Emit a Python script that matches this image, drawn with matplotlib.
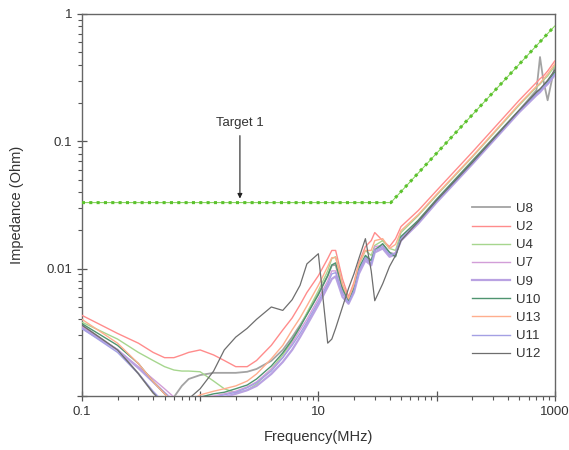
import matplotlib
matplotlib.use("Agg")
import matplotlib.pyplot as plt
from matplotlib.ticker import LogLocator, NullFormatter

plt.rcParams["font.family"] = ["Liberation Sans", "DejaVu Sans"]

# frequency grid (MHz) shared by all measured curves
FREQ = [0.1, 0.2, 0.3, 0.4, 0.5, 0.6, 0.7, 0.8, 1.0, 1.3, 1.6, 2.0, 2.5, 3.0, 4.0,
        5.0, 6.0, 7.0, 8.0, 10, 12, 13, 14, 16, 18, 20, 22, 25, 28, 30, 35, 40,
        45, 50, 70, 100, 200, 500, 700, 750, 800, 870, 1000]

# impedance (Ohm) per device
U8 = [0.0036, 0.0023, 0.0015, 0.00106, 0.00088, 0.00098, 0.0012, 0.00136, 0.00146,
      0.00152, 0.00152, 0.00152, 0.00155, 0.00163, 0.00189, 0.0023, 0.0029, 0.0036,
      0.0044, 0.0064, 0.0088, 0.0106, 0.0107, 0.0068, 0.0056, 0.0071, 0.0100, 0.0124,
      0.0116, 0.0141, 0.0155, 0.0134, 0.0129, 0.0175, 0.0239, 0.0349, 0.070, 0.175,
      0.252, 0.459, 0.302, 0.21, 0.39]
U2 = [0.0043, 0.0031, 0.0026, 0.0022, 0.0020, 0.0020, 0.0021, 0.0022, 0.0023, 0.0021,
      0.0019, 0.0017, 0.0017, 0.0019, 0.0025, 0.0033, 0.0041, 0.0052, 0.0065, 0.0088,
      0.0120, 0.0139, 0.0139, 0.0083, 0.0060, 0.0078, 0.0111, 0.0149, 0.0166, 0.0192,
      0.0166, 0.0149, 0.0172, 0.0214, 0.0286, 0.041, 0.082, 0.21, 0.29, 0.31, 0.325,
      0.356, 0.427]
U4 = [0.0038, 0.0028, 0.0022, 0.0019, 0.0017, 0.0016, 0.00157, 0.00157, 0.00155,
      0.00131, 0.00114, 0.00106, 0.00111, 0.00124, 0.00163, 0.0021, 0.0027, 0.0035,
      0.0045, 0.0067, 0.0096, 0.0120, 0.0124, 0.0075, 0.0057, 0.0074, 0.0106, 0.0139,
      0.0127, 0.0152, 0.0166, 0.0144, 0.0139, 0.0192, 0.0261, 0.0376, 0.075, 0.192,
      0.266, 0.281, 0.302, 0.325, 0.39]
U7 = [0.0035, 0.0023, 0.0017, 0.00136, 0.00114, 0.00098, 0.00091, 0.00095, 0.00098,
      0.0010, 0.00104, 0.00109, 0.00118, 0.00129, 0.00163, 0.0020, 0.0026, 0.0033,
      0.0040, 0.0058, 0.0080, 0.0096, 0.0096, 0.0065, 0.0054, 0.0067, 0.0096, 0.0120,
      0.0111, 0.0149, 0.0152, 0.0127, 0.0134, 0.0172, 0.0234, 0.0343, 0.068, 0.172,
      0.239, 0.252, 0.266, 0.292, 0.343]
U9 = [0.0034, 0.0023, 0.00166, 0.00129, 0.00106, 0.00091, 0.00085, 0.00083, 0.0009,
      0.00095, 0.00098, 0.00104, 0.00111, 0.0012, 0.00149, 0.00185, 0.0023, 0.0029,
      0.0036, 0.0052, 0.0072, 0.0083, 0.0087, 0.0060, 0.0053, 0.0065, 0.0091, 0.0116,
      0.0106, 0.0134, 0.0144, 0.0124, 0.0129, 0.0166, 0.0226, 0.0331, 0.066, 0.169,
      0.23, 0.243, 0.261, 0.281, 0.331]
U10 = [0.0037, 0.0025, 0.0018, 0.0013, 0.00104, 0.00088, 0.00083, 0.00088, 0.00098,
       0.00104, 0.00107, 0.00114, 0.00122, 0.00136, 0.00172, 0.00218, 0.00276, 0.00349,
       0.00435, 0.00624, 0.0088, 0.0107, 0.0111, 0.0070, 0.0056, 0.0070, 0.0100, 0.0127,
       0.0116, 0.0139, 0.0157, 0.0134, 0.0124, 0.0179, 0.0239, 0.0349, 0.0696, 0.175,
       0.243, 0.257, 0.271, 0.297, 0.349]
U13 = [0.0040, 0.0026, 0.0018, 0.0013, 0.00104, 0.00088, 0.00083, 0.00091, 0.00102,
       0.00109, 0.00114, 0.0012, 0.00131, 0.00149, 0.00196, 0.0025, 0.0033, 0.0041,
       0.0051, 0.0074, 0.0104, 0.0122, 0.0122, 0.0075, 0.0058, 0.0075, 0.0109, 0.0139,
       0.0139, 0.0166, 0.0172, 0.0144, 0.0155, 0.0199, 0.0266, 0.0383, 0.076, 0.196,
       0.271, 0.286, 0.308, 0.337, 0.404]
U11 = [0.0034, 0.0022, 0.0015, 0.00109, 0.00088, 0.00079, 0.00082, 0.00088, 0.00095,
       0.00098, 0.00102, 0.00107, 0.00116, 0.00127, 0.00157, 0.0020, 0.0025, 0.0031,
       0.0038, 0.0055, 0.0076, 0.0091, 0.0093, 0.0064, 0.0054, 0.0067, 0.0096, 0.0122,
       0.0109, 0.0139, 0.0149, 0.0129, 0.0131, 0.0172, 0.023, 0.0337, 0.067, 0.172,
       0.234, 0.248, 0.266, 0.286, 0.337]
U12 = [0.0036, 0.0023, 0.0015, 0.00106, 0.00085, 0.00076, 0.00083, 0.00095, 0.00114,
       0.00157, 0.0023, 0.0029, 0.0034, 0.0040, 0.0050, 0.0047, 0.0057, 0.0074, 0.0109,
       0.0131, 0.0026, 0.0028, 0.0034, 0.0050, 0.0070, 0.0091, 0.0120, 0.0172, 0.0096,
       0.0056, 0.0076, 0.0104, 0.0127, 0.0166, 0.0234, 0.0343, 0.068, 0.175, 0.243,
       0.257, 0.276, 0.302, 0.362]

# target impedance corner points
TARGET_F = [0.1, 41, 1000]
TARGET_Z = [0.033, 0.033, 0.805]

SERIES = [
    ("U8", U8, "#a3a3a3", 1.3),
    ("U2", U2, "#ff8c8c", 1.0),
    ("U4", U4, "#a6d68e", 1.0),
    ("U7", U7, "#d29ed8", 1.0),
    ("U9", U9, "#b9a2e2", 1.6),
    ("U10", U10, "#4f9470", 1.0),
    ("U13", U13, "#ffae8e", 1.0),
    ("U11", U11, "#a4a0e4", 1.0),
    ("U12", U12, "#6e6e6e", 0.9),
]

fig = plt.figure(figsize=(5.69, 4.5), dpi=100)
ax = fig.add_axes([0.144, 0.12, 0.831, 0.849])

for name, vals, color, lw in SERIES:
    ax.plot(FREQ, vals, color=color, lw=lw, label=name, zorder=3)

# target line: thin link plus square "markers" from a dash pattern
ax.plot(TARGET_F, TARGET_Z, color="#7ccf4e", lw=0.7, zorder=4)
ax.plot(TARGET_F, TARGET_Z, color="#5cc22e", lw=2.2, zorder=4,
        linestyle=(0, (1, 1.4)), dash_capstyle="butt")

ax.annotate("Target 1", xy=(2.17, 0.0355), xytext=(2.17, 0.14),
            ha="center", va="center", fontsize=9.5, color="#333333",
            arrowprops=dict(arrowstyle="-|>", color="#222222", lw=0.8,
                            mutation_scale=7, shrinkA=3, shrinkB=0))

ax.set_xscale("log")
ax.set_yscale("log")
ax.set_xlim(0.1, 1000)
ax.set_ylim(0.001, 1)

ax.set_xticks([0.1, 1, 10, 100, 1000])
ax.set_xticklabels(["0.1", "", "10", "", "1000"])
ax.set_yticks([0.001, 0.01, 0.1, 1])
ax.set_yticklabels(["", "0.01", "0.1", "1"])
ax.xaxis.set_minor_locator(LogLocator(base=10, subs=range(2, 10), numticks=20))
ax.yaxis.set_minor_locator(LogLocator(base=10, subs=range(2, 10), numticks=20))
ax.xaxis.set_minor_formatter(NullFormatter())
ax.yaxis.set_minor_formatter(NullFormatter())

ax.tick_params(which="major", direction="inout", length=7, width=0.9,
               colors="#555555", labelcolor="#333333", labelsize=9.5)
ax.tick_params(which="minor", direction="out", length=3, width=0.8, colors="#555555")
ax.tick_params(top=False, right=False)
for sp in ax.spines.values():
    sp.set_color("#666666")
    sp.set_linewidth(1.0)

ax.set_xlabel("Frequency(MHz)", fontsize=10.5, color="#333333", labelpad=9)
ax.set_ylabel("Impedance (Ohm)", fontsize=10.5, color="#333333", labelpad=16)

ax.legend(loc="upper left", bbox_to_anchor=(0.80, 0.537), frameon=False,
          fontsize=9.5, handlelength=2.9, handletextpad=0.4, labelspacing=0.45,
          labelcolor="#333333")

fig.savefig("out.png", dpi=100)
